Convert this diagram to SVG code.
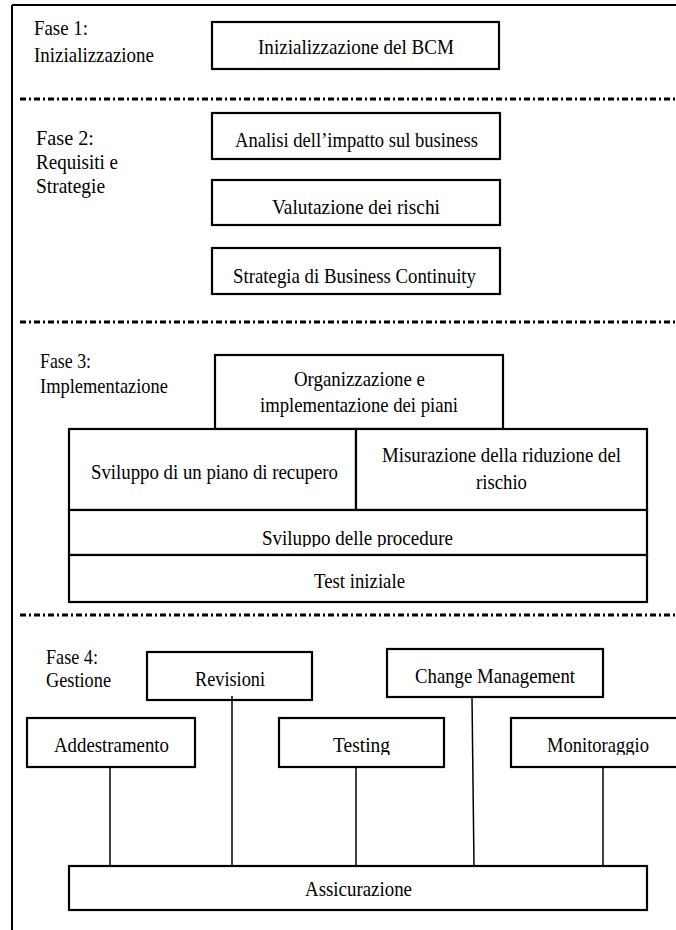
<svg xmlns="http://www.w3.org/2000/svg" width="676" height="930" viewBox="0 0 676 930">
  <style>
    .box { fill: #ffffff; stroke: #000000; stroke-width: 2.2; }
    .frame { fill: none; stroke: #000000; stroke-width: 2; }
    .sep { fill: none; stroke: #000000; stroke-width: 3; stroke-dasharray: 6 3 2 3; }
    .link { fill: none; stroke: #000000; stroke-width: 1.5; }
    text { font-family: "Liberation Serif", "DejaVu Serif", "Times New Roman", serif; font-size: 22px; fill: #000000; }
  </style>
  <defs>
    <clipPath id="clipProc"><rect x="69" y="510" width="578" height="37"/></clipPath>
    <clipPath id="clipRow2"><rect x="0" y="718" width="676" height="37"/></clipPath>
  </defs>

  <rect x="0" y="0" width="676" height="930" fill="#ffffff"/>

  <!-- outer frame -->
  <g id="frame">
    <line class="frame" x1="12" y1="5" x2="676" y2="5"/>
    <line class="frame" x1="12" y1="5" x2="12" y2="930"/>
  </g>

  <!-- phase separators -->
  <g id="separators">
    <line class="sep" x1="20" y1="99" x2="676" y2="99"/>
    <line class="sep" x1="20" y1="322" x2="676" y2="322"/>
    <line class="sep" x1="20" y1="615" x2="676" y2="615"/>
  </g>

  <!-- phase labels -->
  <g id="phase1-label">
    <text x="34" y="35" textLength="54" lengthAdjust="spacingAndGlyphs">Fase 1:</text>
    <text x="34" y="62" textLength="120" lengthAdjust="spacingAndGlyphs">Inizializzazione</text>
  </g>
  <g id="phase2-label">
    <text x="36" y="145" textLength="58" lengthAdjust="spacingAndGlyphs">Fase 2:</text>
    <text x="36" y="169" textLength="82" lengthAdjust="spacingAndGlyphs">Requisiti e</text>
    <text x="36" y="193" textLength="69" lengthAdjust="spacingAndGlyphs">Strategie</text>
  </g>
  <g id="phase3-label">
    <text x="40" y="368" textLength="51" lengthAdjust="spacingAndGlyphs">Fase 3:</text>
    <text x="40" y="393" textLength="128" lengthAdjust="spacingAndGlyphs">Implementazione</text>
  </g>
  <g id="phase4-label">
    <text x="46" y="664" textLength="52" lengthAdjust="spacingAndGlyphs">Fase 4:</text>
    <text x="46" y="687" textLength="65" lengthAdjust="spacingAndGlyphs">Gestione</text>
  </g>

  <!-- Fase 1 -->
  <g id="init-bcm">
    <rect class="box" x="212" y="22" width="287" height="47"/>
    <text x="258" y="54" textLength="196" lengthAdjust="spacingAndGlyphs">Inizializzazione del BCM</text>
  </g>

  <!-- Fase 2 -->
  <g id="bia">
    <rect class="box" x="212" y="113" width="288" height="46"/>
    <text x="235" y="147" textLength="243" lengthAdjust="spacingAndGlyphs">Analisi dell’impatto sul business</text>
  </g>
  <g id="risk-assessment">
    <rect class="box" x="212" y="180" width="288" height="45"/>
    <text x="272" y="214" textLength="168" lengthAdjust="spacingAndGlyphs">Valutazione dei rischi</text>
  </g>
  <g id="bc-strategy">
    <rect class="box" x="212" y="248" width="288" height="46"/>
    <text x="233" y="283" textLength="243" lengthAdjust="spacingAndGlyphs">Strategia di Business Continuity</text>
  </g>

  <!-- Fase 3 -->
  <g id="plan-organisation">
    <rect class="box" x="215" y="355" width="288" height="74"/>
    <text x="294" y="386" textLength="131" lengthAdjust="spacingAndGlyphs">Organizzazione e</text>
    <text x="260" y="412" textLength="198" lengthAdjust="spacingAndGlyphs">implementazione dei piani</text>
  </g>
  <g id="recovery-plan">
    <rect class="box" x="69" y="429" width="287" height="81"/>
    <text x="91" y="479" textLength="247" lengthAdjust="spacingAndGlyphs">Sviluppo di un piano di recupero</text>
  </g>
  <g id="risk-reduction">
    <rect class="box" x="356" y="429" width="291" height="81"/>
    <text x="382" y="462" textLength="239" lengthAdjust="spacingAndGlyphs">Misurazione della riduzione del</text>
    <text x="476" y="489" textLength="51" lengthAdjust="spacingAndGlyphs">rischio</text>
  </g>
  <g id="procedures">
    <rect class="box" x="69" y="510" width="578" height="45"/>
    <text x="262" y="545" textLength="191" lengthAdjust="spacingAndGlyphs" clip-path="url(#clipProc)">Sviluppo delle procedure</text>
  </g>
  <g id="initial-test">
    <rect class="box" x="69" y="555" width="578" height="47"/>
    <text x="314" y="588" textLength="91" lengthAdjust="spacingAndGlyphs">Test iniziale</text>
  </g>

  <!-- Fase 4 connectors -->
  <g id="connectors">
    <line class="link" x1="110" y1="767" x2="110" y2="866"/>
    <line class="link" x1="232" y1="696" x2="232" y2="866"/>
    <line class="link" x1="356" y1="767" x2="356" y2="866"/>
    <line class="link" x1="472" y1="697" x2="474" y2="866"/>
    <line class="link" x1="603" y1="767" x2="603" y2="866"/>
  </g>

  <!-- Fase 4 -->
  <g id="reviews">
    <rect class="box" x="147" y="652" width="165" height="48" fill-opacity="0"/>
    <text x="195" y="686" textLength="70" lengthAdjust="spacingAndGlyphs">Revisioni</text>
  </g>
  <g id="change-management">
    <rect class="box" x="387" y="649" width="216" height="48"/>
    <text x="415" y="683" textLength="160" lengthAdjust="spacingAndGlyphs">Change Management</text>
  </g>
  <g id="training">
    <rect class="box" x="27" y="718" width="168" height="49"/>
    <text x="54" y="752" textLength="115" lengthAdjust="spacingAndGlyphs">Addestramento</text>
  </g>
  <g id="testing">
    <rect class="box" x="279" y="718" width="165" height="49"/>
    <text x="333" y="752" textLength="57" lengthAdjust="spacingAndGlyphs" clip-path="url(#clipRow2)">Testing</text>
  </g>
  <g id="monitoring">
    <rect class="box" x="511" y="718" width="180" height="49"/>
    <text x="547" y="752" textLength="102" lengthAdjust="spacingAndGlyphs" clip-path="url(#clipRow2)">Monitoraggio</text>
  </g>
  <g id="insurance">
    <rect class="box" x="69" y="866" width="578" height="44"/>
    <text x="305" y="896" textLength="107" lengthAdjust="spacingAndGlyphs">Assicurazione</text>
  </g>
</svg>
